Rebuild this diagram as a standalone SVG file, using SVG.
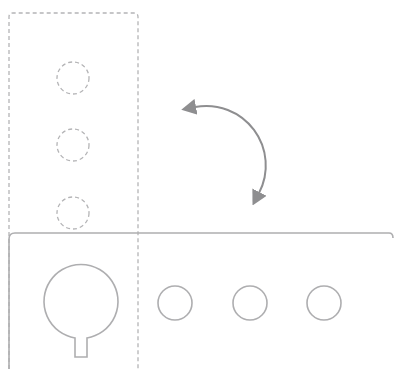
<svg xmlns="http://www.w3.org/2000/svg" width="394" height="369" viewBox="0 0 394 369">
<style>
.dash{fill:none;stroke:#b4b4b6;stroke-width:1.3;stroke-dasharray:4 3}
.solid{fill:none;stroke:#aeaeb0;stroke-width:1.6}
.conn{fill:none;stroke:#8e8e90;stroke-width:2}
</style>
<defs>
<marker id="ah" viewBox="0 0 15 16" refX="1" refY="8" markerWidth="15" markerHeight="16" orient="auto-start-reverse" markerUnits="userSpaceOnUse">
<path d="M0,0 L15,8 L0,16 z" fill="#8e8e90"/>
</marker>
</defs>
<g id="column">
<path class="dash" d="M9,369 V17 Q9,13 13,13 H134 Q138,13 138,17 V369"/>
</g>
<g id="slot1"><circle class="dash" cx="73" cy="78" r="16"/></g>
<g id="slot2"><circle class="dash" cx="73" cy="145" r="16"/></g>
<g id="slot3"><circle class="dash" cx="73" cy="213" r="16"/></g>
<g id="tray">
<path class="solid" d="M9,369 V239 Q9,233 15,233 H389 Q393,233 393,238"/>
</g>
<g id="big">
<path class="solid" d="M75,338 A37,37 0 1 1 87,338 V357 H75 Z"/>
</g>
<g id="c1"><circle class="solid" cx="175" cy="303" r="17"/></g>
<g id="c2"><circle class="solid" cx="250" cy="303" r="17"/></g>
<g id="c3"><circle class="solid" cx="324" cy="303" r="17"/></g>
<g id="connectors">
<path class="conn" d="M195,107 A59.5,59.5 0 0 1 259,193" marker-start="url(#ah)" marker-end="url(#ah)"/>
</g>
</svg>
